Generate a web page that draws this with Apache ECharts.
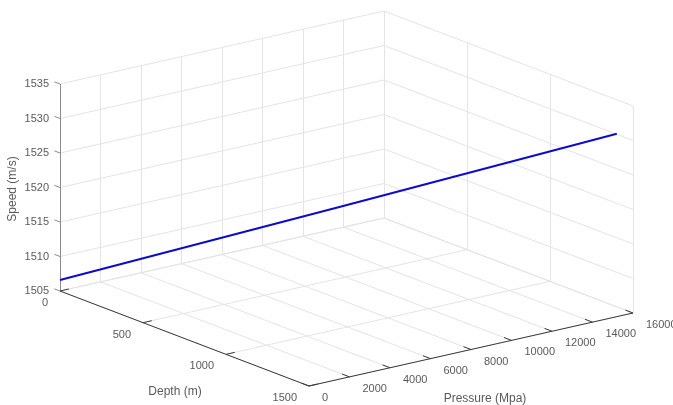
<!DOCTYPE html>
<html>
<head>
<meta charset="utf-8">
<script src="https://cdn.jsdelivr.net/npm/echarts@6/dist/echarts.min.js"></script>
<style>
html,body{margin:0;padding:0;background:#fff;}
#chart{width:673px;height:405px;}
</style>
</head>
<body>
<div id="chart"></div>
<script>
// ---- data ----
const pressureTicks = [0, 2000, 4000, 6000, 8000, 10000, 12000, 14000, 16000];
const depthTicks = [0, 500, 1000, 1500];
const speedTicks = [1505, 1510, 1515, 1520, 1525, 1530, 1535];
const depthData = [0, 750, 1500];
const pressureData = [0, 7600, 15200];
const speedData = [1506.6, 1519.0, 1531.5];
const axisTitles = { pressure: 'Pressure (Mpa)', depth: 'Depth (m)', speed: 'Speed (m/s)' };

// ---- 3D box (orthographic view) ----
const P = [0, 16000], D = [0, 1500], S = [1505, 1535];
const O = [60, 291];          // screen point of (pMin, dMin, sMin)
const VP = [324, -73];        // full pressure range
const VD = [249, 95];         // full depth range
const VS = [0, -207];         // full speed range
function proj(p, d, s) {
  const tp = (p - P[0]) / (P[1] - P[0]);
  const td = (d - D[0]) / (D[1] - D[0]);
  const ts = (s - S[0]) / (S[1] - S[0]);
  return [O[0] + tp * VP[0] + td * VD[0] + ts * VS[0],
          O[1] + tp * VP[1] + td * VD[1] + ts * VS[1]];
}
function unit(v) { const l = Math.hypot(v[0], v[1]); return [v[0] / l, v[1] / l]; }

const grid = [];
// back wall (depth = min)
pressureTicks.forEach(p => grid.push({ coords: [proj(p, D[0], S[0]), proj(p, D[0], S[1])] }));
speedTicks.forEach(s => grid.push({ coords: [proj(P[0], D[0], s), proj(P[1], D[0], s)] }));
// right wall (pressure = max)
depthTicks.forEach(d => grid.push({ coords: [proj(P[1], d, S[0]), proj(P[1], d, S[1])] }));
speedTicks.forEach(s => grid.push({ coords: [proj(P[1], D[0], s), proj(P[1], D[1], s)] }));
// floor
pressureTicks.forEach(p => grid.push({ coords: [proj(p, D[0], S[0]), proj(p, D[1], S[0])] }));
depthTicks.forEach(d => grid.push({ coords: [proj(P[0], d, S[0]), proj(P[1], d, S[0])] }));

const axesDark = [
  { coords: [proj(P[0], D[0], S[0]), proj(P[0], D[1], S[0])] },
  { coords: [proj(P[0], D[1], S[0]), proj(P[1], D[1], S[0])] }
];
const axesGrey = [
  { coords: [proj(P[0], D[0], S[0]), proj(P[0], D[0], S[1])] }
];

const uP = unit(VP), uD = unit(VD);
const ticksDark = [], ticksGrey = [];
depthTicks.forEach(d => { const a = proj(P[0], d, S[0]); ticksDark.push({ coords: [a, [a[0] + uP[0] * 9, a[1] + uP[1] * 9]] }); });
pressureTicks.forEach(p => { const a = proj(p, D[1], S[0]); ticksDark.push({ coords: [a, [a[0] - uD[0] * 8, a[1] - uD[1] * 8]] }); });
speedTicks.forEach(s => { const a = proj(P[0], D[0], s); ticksGrey.push({ coords: [a, [a[0] - uD[0] * 6, a[1] - uD[1] * 6]] }); });

const labelStyle = { fontFamily: 'Liberation Sans, Arial, sans-serif', fontSize: 11, color: '#2e2e2e' };
const labels = [];
speedTicks.forEach(s => { const a = proj(P[0], D[0], s); labels.push({ value: [49, a[1]], name: String(s), align: 'right' }); });
depthTicks.forEach(d => { const a = proj(P[0], d, S[0]); labels.push({ value: [a[0] - 12, a[1] + 12], name: String(d), align: 'right' }); });
pressureTicks.forEach(p => { const a = proj(p, D[1], S[0]); labels.push({ value: [a[0] + 13, a[1] + 12], name: String(p), align: 'left' }); });
const labelData = labels.map(l => ({
  value: l.value, name: l.name,
  label: Object.assign({ show: true, position: [0, 0], align: l.align, verticalAlign: 'middle', formatter: '{b}' }, labelStyle)
}));
const titleStyle = { fontFamily: 'Liberation Sans, Arial, sans-serif', fontSize: 12, color: '#2e2e2e' };
const titleData = [
  { value: [13, 189], name: axisTitles.speed, label: Object.assign({ show: true, position: [0, 0], align: 'center', verticalAlign: 'middle', rotate: 90, formatter: '{b}' }, titleStyle) },
  { value: [175, 392], name: axisTitles.depth, label: Object.assign({ show: true, position: [0, 0], align: 'center', verticalAlign: 'middle', formatter: '{b}' }, titleStyle) },
  { value: [485, 399], name: axisTitles.pressure, label: Object.assign({ show: true, position: [0, 0], align: 'center', verticalAlign: 'middle', formatter: '{b}' }, titleStyle) }
];

const lineData = depthData.map((d, i) => proj(pressureData[i], d, speedData[i]));

const chart = echarts.init(document.getElementById('chart'), null, { renderer: 'canvas' });
chart.setOption({
  animation: false,
  backgroundColor: '#ffffff',
  grid: { left: 0, right: 0, top: 0, bottom: 0 },
  xAxis: { type: 'value', min: 0, max: 673, show: false },
  yAxis: { type: 'value', min: 0, max: 405, inverse: true, show: false },
  series: [
    { type: 'lines', coordinateSystem: 'cartesian2d', silent: true, data: grid, lineStyle: { color: '#e4e4e4', width: 1, opacity: 1 }, z: 1 },
    { type: 'lines', coordinateSystem: 'cartesian2d', silent: true, data: axesGrey.concat(ticksGrey), lineStyle: { color: '#8c8c8c', width: 1, opacity: 1 }, z: 2 },
    { type: 'lines', coordinateSystem: 'cartesian2d', silent: true, data: axesDark.concat(ticksDark), lineStyle: { color: '#3a3a3a', width: 1, opacity: 1 }, z: 2 },
    { type: 'line', data: lineData, showSymbol: false, symbol: 'none', lineStyle: { color: '#0c0cc8', width: 2 }, z: 3 },
    { type: 'scatter', symbolSize: 0, data: labelData, silent: true, z: 4 },
    { type: 'scatter', symbolSize: 0, data: titleData, silent: true, z: 4 }
  ]
});
</script>
</body>
</html>
